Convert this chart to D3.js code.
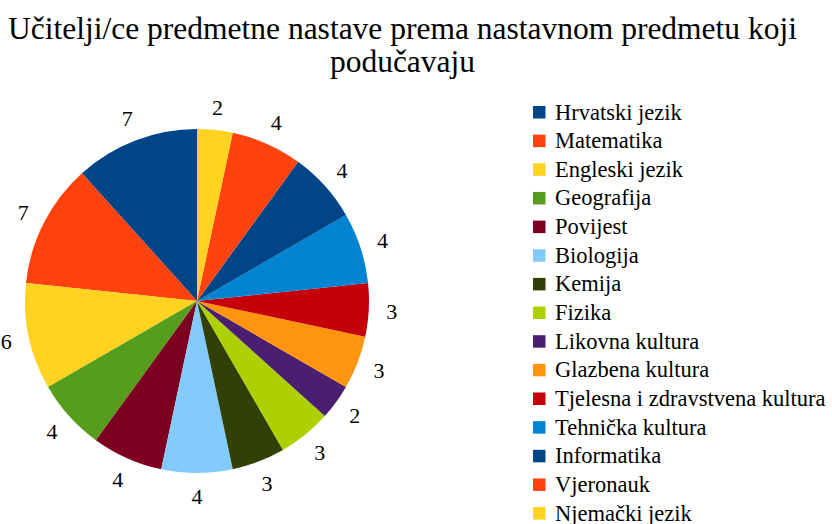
<!DOCTYPE html>
<html><head><meta charset="utf-8"><script src="https://cdn.jsdelivr.net/npm/d3@7"></script></head>
<body style="margin:0;background:#fff">
<svg id="chart" width="832" height="524"></svg>
<script>
const titleLines = ["Učitelji/ce predmetne nastave prema nastavnom predmetu koji", "podučavaju"];
const categories = ["Hrvatski jezik", "Matematika", "Engleski jezik", "Geografija", "Povijest", "Biologija", "Kemija", "Fizika", "Likovna kultura", "Glazbena kultura", "Tjelesna i zdravstvena kultura", "Tehnička kultura", "Informatika", "Vjeronauk", "Njemački jezik"];
const values = [7, 7, 6, 4, 4, 4, 3, 3, 2, 3, 3, 4, 4, 4, 2];
const colors = ["#004586", "#ff420e", "#ffd320", "#579d1c", "#7e0021", "#83caff", "#314004", "#aecf00", "#4b1f6f", "#ff950e", "#c5000b", "#0084d1", "#004586", "#ff420e", "#ffd320"];

const svg = d3.select("#chart");
const FONT = '"Liberation Serif"';

svg.selectAll("text.title").data(titleLines).join("text")
  .attr("class", "title")
  .attr("x", 402.5).attr("y", (d, i) => 39 + i * 33)
  .attr("text-anchor", "middle")
  .attr("font-size", 31.5)
  .style("font-family", FONT)
  .text(d => d);

const cx = 197, cy = 301, r = 172, labelR = 195;
const data = categories.map((c, i) => ({ name: c, value: values[i], color: colors[i] }));
const pie = d3.pie().sort(null).value(d => d.value).startAngle(0).endAngle(-2 * Math.PI);
const arcs = pie(data);
const arc = d3.arc().innerRadius(0).outerRadius(r);
const labelArc = d3.arc().innerRadius(labelR).outerRadius(labelR);

const g = svg.append("g").attr("transform", `translate(${cx},${cy})`);
g.selectAll("path").data(arcs).join("path")
  .attr("d", arc)
  .attr("fill", d => d.data.color);

g.selectAll("text").data(arcs).join("text")
  .attr("x", d => labelArc.centroid(d)[0])
  .attr("y", d => labelArc.centroid(d)[1] + 7.5)
  .attr("text-anchor", "middle")
  .attr("font-size", 22)
  .style("font-family", FONT)
  .text(d => d.data.value);

const legendY = d3.scalePoint().domain(categories).range([112, 112 + 28.65 * (categories.length - 1)]);
svg.selectAll("rect.key").data(data).join("rect")
  .attr("class", "key")
  .attr("x", 533).attr("y", d => legendY(d.name) - 6)
  .attr("width", 12.5).attr("height", 12.5)
  .attr("fill", d => d.color);
svg.selectAll("text.key").data(data).join("text")
  .attr("class", "key")
  .attr("x", 555).attr("y", d => legendY(d.name) + 7.5)
  .attr("font-size", 22.5)
  .style("font-family", FONT)
  .text(d => d.name);
</script>
</body></html>
